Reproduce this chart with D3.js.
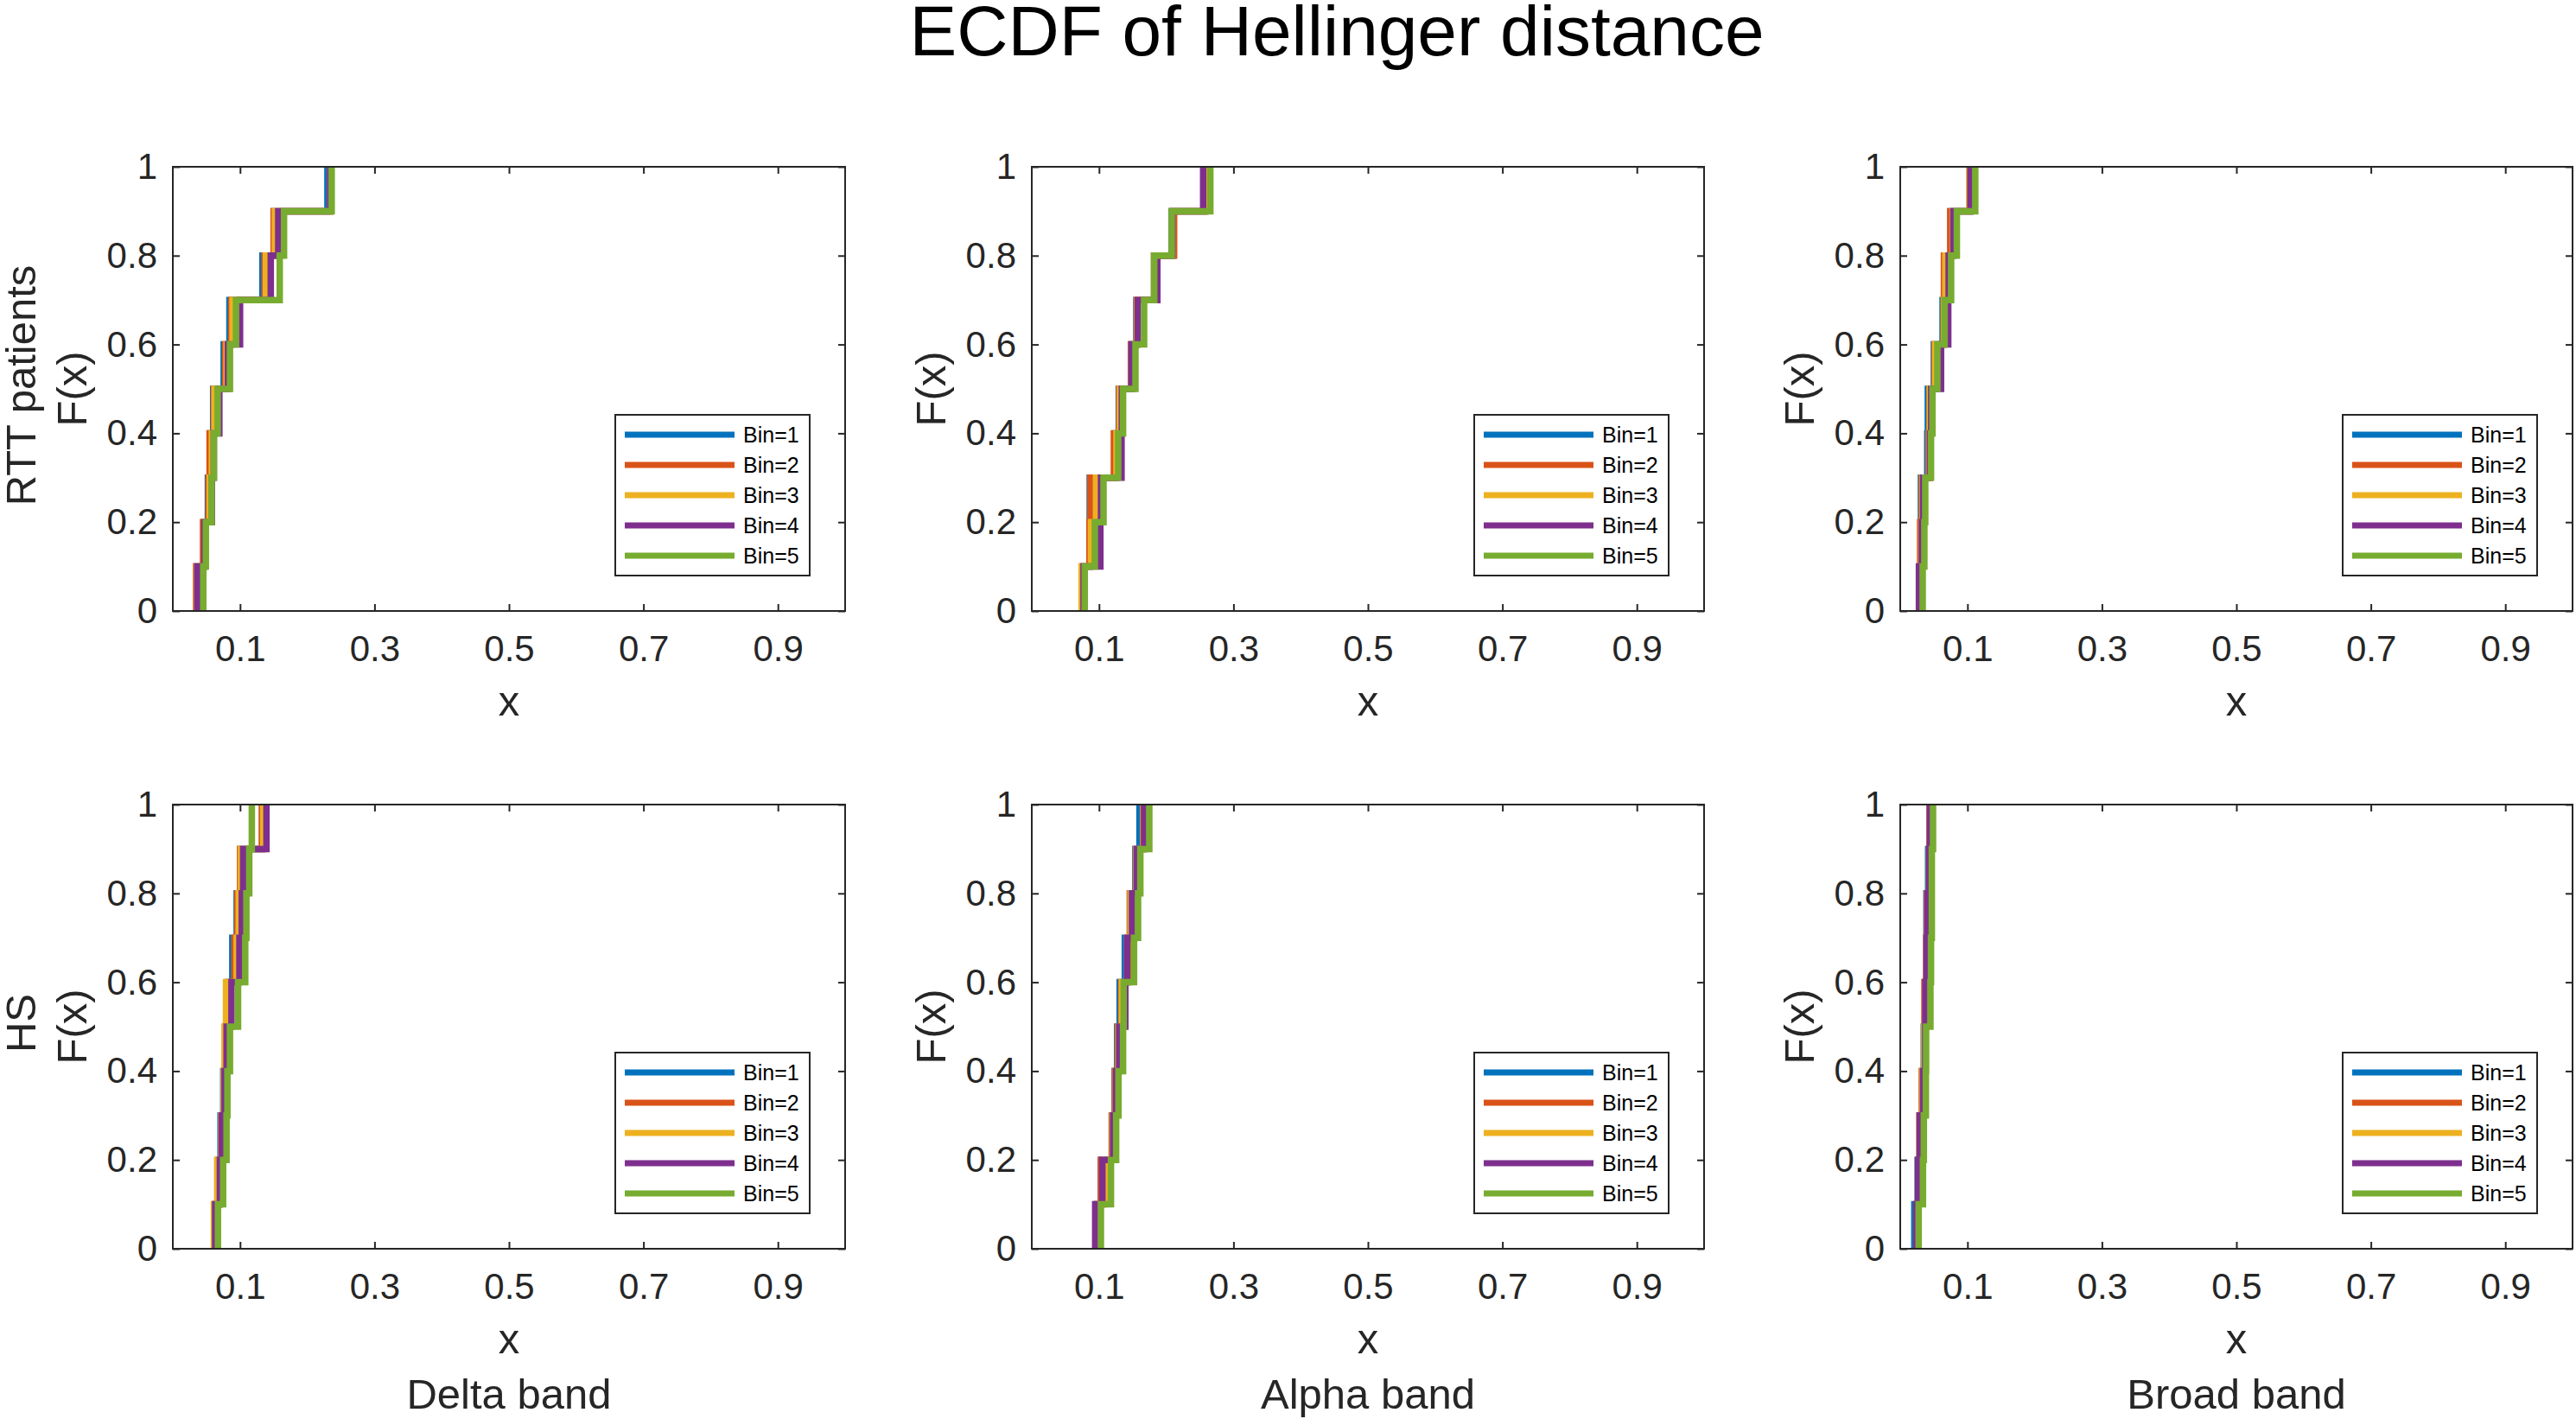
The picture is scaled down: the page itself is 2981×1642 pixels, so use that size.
<!DOCTYPE html>
<html>
  <head>
    <meta charset="utf-8">
    <title>ECDF of Hellinger distance</title>
    <style>
      body, html{
        margin: 0;
        background: #fff;
      }
      text{
        font-family: "Liberation Sans", Arial, Helvetica, sans-serif;
      }
    </style>
  </head>
  <body>
    <div id="chart"></div>
    <script src="https://cdn.jsdelivr.net/npm/d3@7"></script>
    <script>

// --- data -----------------------------------------------------------------
var binNames = ['Bin=1', 'Bin=2', 'Bin=3', 'Bin=4', 'Bin=5']
var groupNames = ['RTT patients', 'HS']
var bandNames = ['Delta band', 'Alpha band', 'Broad band']
var fLevels = [0, 0.1, 0.2, 0.3, 0.4, 0.5, 0.6, 0.7, 0.8, 0.9, 1]
var xTicks = [0.1, 0.3, 0.5, 0.7, 0.9]
var yTicks = [0, 0.2, 0.4, 0.6, 0.8, 1]

// sorted Hellinger distances (10 per bin), one list per bin
var rttDelta = [
  [0.0355, 0.047, 0.0521, 0.056, 0.060, 0.0756, 0.0842, 0.1333, 0.150, 0.230],
  [0.0346, 0.0449, 0.053, 0.0547, 0.061, 0.0778, 0.0868, 0.1363, 0.150, 0.234],
  [0.0355, 0.047, 0.055, 0.058, 0.062, 0.080, 0.0889, 0.1385, 0.1517, 0.234],
  [0.0363, 0.047, 0.0581, 0.061, 0.0692, 0.082, 0.100, 0.1457, 0.1568, 0.234],
  [0.0453, 0.0491, 0.0577, 0.0611, 0.0667, 0.085, 0.094, 0.159, 0.1654, 0.2363]
]
var rttAlpha = [
  [0.0754, 0.086, 0.0862, 0.124, 0.1294, 0.149, 0.1555, 0.182, 0.208, 0.258],
  [0.0754, 0.0857, 0.087, 0.1221, 0.130, 0.1474, 0.156, 0.182, 0.2117, 0.258],
  [0.0741, 0.088, 0.0955, 0.126, 0.131, 0.148, 0.157, 0.182, 0.209, 0.258],
  [0.077, 0.102, 0.103, 0.1335, 0.134, 0.1482, 0.1577, 0.1868, 0.209, 0.2549],
  [0.0788, 0.0938, 0.1067, 0.1285, 0.1358, 0.1542, 0.1671, 0.1821, 0.2082, 0.2656]
]
var rttBroad = [
  [0.029, 0.0305, 0.0308, 0.0402, 0.041, 0.05, 0.063, 0.066, 0.075, 0.104],
  [0.029, 0.0295, 0.032, 0.042, 0.0436, 0.0509, 0.0645, 0.065, 0.0744, 0.104],
  [0.029, 0.031, 0.033, 0.043, 0.044, 0.052, 0.065, 0.0671, 0.078, 0.1026],
  [0.0278, 0.032, 0.034, 0.044, 0.046, 0.0607, 0.0714, 0.072, 0.079, 0.1043],
  [0.0334, 0.0359, 0.0372, 0.0458, 0.0479, 0.0552, 0.0659, 0.0757, 0.0842, 0.1116]
]
var hsDelta = [
  [0.063, 0.068, 0.0709, 0.075, 0.078, 0.082, 0.0885, 0.095, 0.100, 0.133],
  [0.063, 0.0697, 0.072, 0.076, 0.078, 0.083, 0.0915, 0.096, 0.100, 0.1325],
  [0.0611, 0.066, 0.072, 0.076, 0.0769, 0.0791, 0.0949, 0.098, 0.101, 0.1346],
  [0.063, 0.070, 0.0726, 0.077, 0.080, 0.0872, 0.0991, 0.1026, 0.1047, 0.1393],
  [0.0671, 0.0748, 0.0799, 0.0812, 0.085, 0.097, 0.1077, 0.1094, 0.1137, 0.1175]
]
var hsAlpha = [
  [0.097, 0.103, 0.119, 0.123, 0.127, 0.1307, 0.1384, 0.146, 0.154, 0.1602],
  [0.097, 0.1028, 0.1191, 0.1234, 0.128, 0.133, 0.1448, 0.146, 0.155, 0.1654],
  [0.097, 0.1084, 0.120, 0.124, 0.129, 0.134, 0.1418, 0.147, 0.155, 0.166],
  [0.0943, 0.105, 0.121, 0.125, 0.130, 0.1392, 0.1418, 0.1491, 0.156, 0.167],
  [0.1028, 0.1178, 0.1255, 0.129, 0.1358, 0.1367, 0.1521, 0.1581, 0.1615, 0.1748]
]
var hsBroad = [
  [0.021, 0.026, 0.029, 0.033, 0.035, 0.037, 0.039, 0.039, 0.0415, 0.044],
  [0.024, 0.0265, 0.0287, 0.0321, 0.036, 0.036, 0.039, 0.0394, 0.043, 0.0436],
  [0.024, 0.027, 0.0287, 0.033, 0.036, 0.037, 0.039, 0.0394, 0.043, 0.044],
  [0.024, 0.0265, 0.029, 0.034, 0.0372, 0.0372, 0.039, 0.040, 0.043, 0.044],
  [0.0274, 0.0338, 0.0351, 0.0381, 0.0385, 0.0449, 0.0458, 0.047, 0.047, 0.0488]
]

var panels = [
  [rttDelta, rttAlpha, rttBroad],
  [hsDelta, hsAlpha, hsBroad]
]

// --- layout ---------------------------------------------------------------
var width = 2981, height = 1642
var colors = ['#0072BD', '#D95319', '#EDB120', '#7E2F8E', '#77AC30']
var axisColor = '#262626'
var colLeft = [200, 1194, 2199], plotW = 778
var rowTop = [193, 931], plotH = 514

var svg = d3.select('#chart').append('svg')
  .attr('width', width).attr('height', height)
  .style('display', 'block')
  .style('background', '#fff')

svg.append('text')
  .attr('x', 1547).attr('y', 64)
  .attr('text-anchor', 'middle')
  .style('font-size', '82px')
  .style('fill', '#000')
  .text('ECDF of Hellinger distance')

var x = d3.scaleLinear().domain([0, 1]).range([0, plotW])
var y = d3.scaleLinear().domain([0, 1]).range([plotH, 0])

var line = d3.line()
  .x(function(d){ return x(d[0]) })
  .y(function(d){ return y(d[1]) })
  .curve(d3.curveStepAfter)

function stairs(vals){
  // MATLAB ecdf: x = [x1; x], f = levels
  var xs = [vals[0]].concat(vals)
  return xs.map(function(v, i){ return [v, fLevels[i]] })
}

panels.forEach(function(row, r){
  row.forEach(function(series, c){
    var g = svg.append('g')
      .attr('transform', 'translate(' + colLeft[c] + ',' + rowTop[r] + ')')
    var id = 'clip-' + r + '-' + c
    g.append('clipPath').attr('id', id)
      .append('rect').attr('width', plotW).attr('height', plotH)

    // axes, ticks inward, mirrored like a boxed MATLAB axes
    var gx = g.append('g').attr('transform', 'translate(0,' + plotH + ')')
      .call(d3.axisBottom(x).tickValues(xTicks).tickFormat(d3.format('.1f'))
        .tickSizeInner(-8).tickSizeOuter(0).tickPadding(28))
    var gy = g.append('g')
      .call(d3.axisLeft(y).tickValues(yTicks)
        .tickFormat(function(d){ return d === 0 || d === 1 ? d : d.toFixed(1) })
        .tickSizeInner(-8).tickSizeOuter(0).tickPadding(18))
    g.append('g')
      .call(d3.axisTop(x).tickValues(xTicks).tickSizeInner(-8).tickSizeOuter(0).tickFormat(''))
    g.append('g').attr('transform', 'translate(' + plotW + ',0)')
      .call(d3.axisRight(y).tickValues(yTicks).tickSizeInner(-8).tickSizeOuter(0).tickFormat(''))
    g.selectAll('.domain').remove()
    g.selectAll('.tick line').attr('stroke', axisColor).attr('stroke-width', 2)
    g.selectAll('.tick text')
      .attr('fill', axisColor)
      .style('font-size', '42px')
      .style('font-family', '"Liberation Sans", Arial, sans-serif')

    var lines = g.append('g').attr('clip-path', 'url(#' + id + ')')
    lines.selectAll('path').data(series).enter().append('path')
      .attr('d', function(d){ return line(stairs(d)) })
      .attr('fill', 'none')
      .attr('stroke', function(d, i){ return colors[i] })
      .attr('stroke-width', 7.5)
      .attr('stroke-linejoin', 'miter')
      .attr('stroke-linecap', 'butt')

    g.append('rect')
      .attr('width', plotW).attr('height', plotH)
      .attr('fill', 'none').attr('stroke', axisColor).attr('stroke-width', 2)

    g.append('text')
      .attr('x', plotW / 2).attr('y', plotH + 121)
      .attr('text-anchor', 'middle')
      .style('font-size', '49px').style('fill', axisColor)
      .text('x')
    g.append('text')
      .attr('transform', 'translate(-100,' + (plotH / 2) + ') rotate(-90)')
      .attr('text-anchor', 'middle')
      .style('font-size', '49px').style('fill', axisColor)
      .text('F(x)')

    // legend, bottom right
    var lg = g.append('g')
      .attr('transform', 'translate(' + (plotW - 41 - 225) + ',' + (plotH - 41 - 186) + ')')
    lg.append('rect')
      .attr('width', 225).attr('height', 186)
      .attr('fill', '#fff').attr('stroke', axisColor).attr('stroke-width', 2)
    var item = lg.selectAll('g.item').data(binNames).enter().append('g')
      .attr('class', 'item')
      .attr('transform', function(d, i){ return 'translate(0,' + (23 + i * 35) + ')' })
    item.append('line')
      .attr('x1', 11).attr('x2', 138)
      .attr('stroke', function(d, i){ return colors[i] })
      .attr('stroke-width', 7)
    item.append('text')
      .attr('x', 148).attr('dy', '0.35em')
      .style('font-size', '25px').style('fill', '#000')
      .text(function(d){ return d })

    if(c === 0){
      svg.append('text')
        .attr('transform', 'translate(41,' + (rowTop[r] + plotH / 2 - 4) + ') rotate(-90)')
        .attr('text-anchor', 'middle')
        .style('font-size', '49px').style('fill', axisColor)
        .text(groupNames[r])
    }
    if(r === 1){
      svg.append('text')
        .attr('x', colLeft[c] + plotW / 2).attr('y', 1630)
        .attr('text-anchor', 'middle')
        .style('font-size', '49px').style('fill', axisColor)
        .text(bandNames[c])
    }
  })
})
    </script>
  </body>
</html>
